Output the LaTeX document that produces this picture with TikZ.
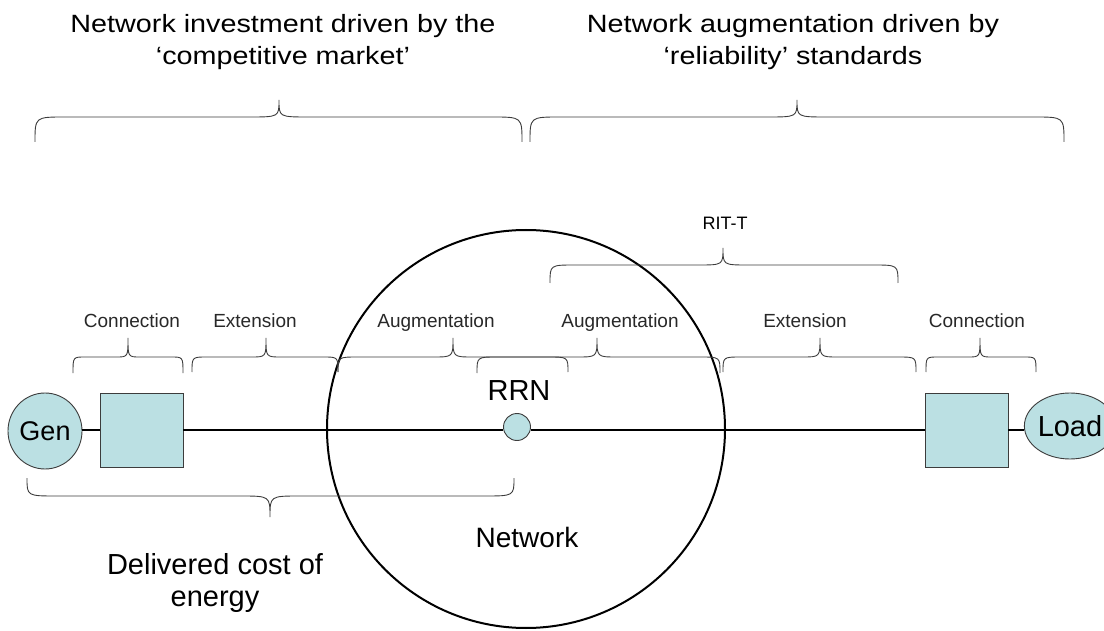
\documentclass[tikz,border=0pt]{standalone}
\usepackage{fontspec}
\usetikzlibrary{shapes.geometric}
\setmainfont{Liberation Sans}
\newfontfamily\titlefont[FakeStretch=1.15]{Liberation Sans}
\definecolor{cyanfill}{RGB}{187,224,227}
\definecolor{bracegray}{RGB}{60,60,60}
\definecolor{labelgray}{RGB}{40,40,40}
\newcommand\drawbrace[7]{%
  \pgfmathsetmacro\bra{#1+#7}\pgfmathsetmacro\brb{#3-#7}%
  \pgfmathsetmacro\brc{#3+#7}\pgfmathsetmacro\brd{#2-#7}%
  \draw[bracestyle] (#1,#4) .. controls (#1,#5) .. (\bra,#5) -- (\brb,#5)
    .. controls (#3,#5) .. (#3,#6) .. controls (#3,#5) .. (\brc,#5) -- (\brd,#5)
    .. controls (#2,#5) .. (#2,#4);}
\begin{document}
\begin{tikzpicture}[x=1pt,y=-1pt,
  bracestyle/.style={draw=bracegray,line width=0.9pt},
  title/.style={font=\titlefont\fontsize{25}{32}\selectfont,align=center,inner sep=0pt},
  small/.style={font=\fontsize{19}{22}\selectfont,text=labelgray,inner sep=0pt,anchor=base},
  big/.style={font=\fontsize{29}{32}\selectfont,inner sep=0pt},
  endnode/.style={ellipse,draw=bracegray,line width=0.9pt,fill=cyanfill,inner sep=0pt},
  boxnode/.style={rectangle,draw=bracegray,line width=0.9pt,fill=cyanfill,minimum width=83pt,minimum height=74pt,inner sep=0pt},
  wire/.style={draw=black,line width=1.1pt}]
\useasboundingbox (0,0) rectangle (1104,631);
\fill[white] (0,0) rectangle (1104,631);

% big network circle
\node[circle,draw=black,line width=2pt,minimum size=398pt,inner sep=0pt] (net) at (526,429) {};

% titles
\node[title] (t1) at (283,42.5) {Network investment driven by the\\‘competitive market’};
\node[title] (t2) at (793,42.5) {Network augmentation driven by\\‘reliability’ standards};
\drawbrace{35}{522}{279}{142}{117}{100}{30}
\drawbrace{530}{1064}{797}{142}{117}{100}{30}

% RIT-T
\node[font=\fontsize{18}{20}\selectfont,inner sep=0pt,anchor=base] (rit) at (725,230) {RIT-T};
\drawbrace{550}{898}{723}{283}{265}{248}{25}

% small labels
\node[small] (c1) at (132,327) {Connection};
\node[small] (e1) at (255,327) {Extension};
\node[small] (a1) at (436,327) {Augmentation};
\node[small] (a2) at (620,327) {Augmentation};
\node[small] (e2) at (805,327) {Extension};
\node[small] (c2) at (977,327) {Connection};
\drawbrace{73}{183}{128}{373}{357}{338}{12}
\drawbrace{192}{338}{266}{372}{357}{338}{15}
\drawbrace{338}{568}{453}{372}{357}{338}{20}
\drawbrace{477}{720}{597}{373}{357}{338}{20}
\drawbrace{723}{916}{820}{372}{357}{338}{18}
\drawbrace{926}{1036}{980}{372}{357}{338}{12}

% main chain
\node[endnode,minimum width=74pt,minimum height=76pt,font=\fontsize{27}{30}\selectfont] (gen) at (45,431) {Gen};
\node[boxnode] (b1) at (141.5,430) {};
\node[circle,draw=bracegray,line width=0.9pt,fill=cyanfill,minimum size=27pt,inner sep=0pt] (rrn) at (517,427) {};
\node[big,anchor=base] (rrnl) at (519,400) {RRN};
\node[boxnode] (b2) at (966.5,430) {};
\node[endnode,minimum width=70pt,minimum height=66pt,font=\fontsize{29}{32}\selectfont] (load) at (1070,426) {Load};
\draw[wire] (gen.east |- 0,430) -- (b1.west |- 0,430);
\draw[wire] (b1.east |- 0,430) -- (rrn.west |- 0,430);
\draw[wire] (rrn.east |- 0,430) -- (b2.west |- 0,430);
\draw[wire] (b2.east |- 0,430) -- (load.west |- 0,430);

% bottom
\drawbrace{27}{514}{270}{478}{496}{517}{30}
\node[big,align=center] (dce) at (215,582.5) {Delivered cost of\\energy};
\node[big,anchor=base,font=\fontsize{28}{32}\selectfont] (netl) at (527,547) {Network};
\end{tikzpicture}
\end{document}
